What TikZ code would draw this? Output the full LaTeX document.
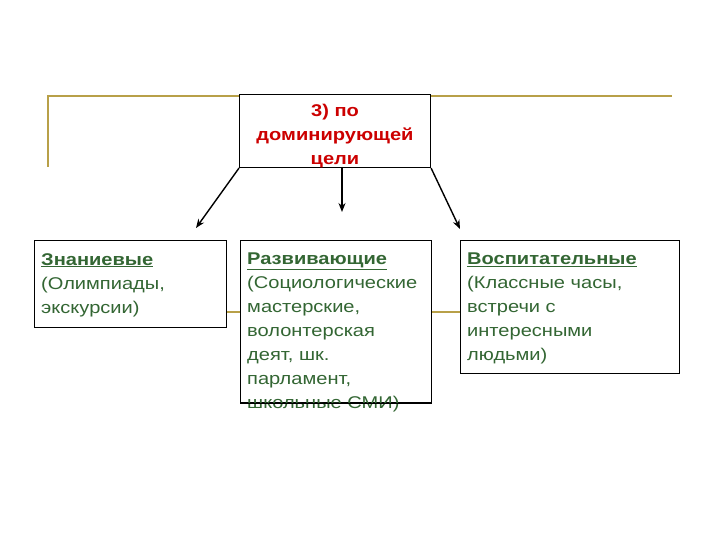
\documentclass[tikz,border=0pt]{standalone}
\usepackage{fontspec}
\setmainfont[FakeStretch=1.18]{Liberation Sans}
\usetikzlibrary{arrows.meta}
\definecolor{gold}{RGB}{184,160,72}
\definecolor{redtxt}{RGB}{204,0,0}
\definecolor{greentxt}{RGB}{51,102,51}
\tikzset{
  frame/.style={draw=black, line width=1.1pt, fill=white, inner sep=0pt},
  bodytext/.style={anchor=north west, inner sep=0pt, align=left, text=greentxt,
    font=\fontsize{17}{24}\selectfont},
  toptext/.style={inner sep=0pt, align=center, text=redtxt,
    font=\fontsize{17}{24}\selectfont\bfseries},
  goldline/.style={draw=gold, line width=2.8pt},
  arr/.style={draw=black, line width=1.4pt, -{Stealth[length=9pt,width=7pt]}}
}
\begin{document}
\begin{tikzpicture}[x=1pt,y=1pt]
\useasboundingbox (0,0) rectangle (720,-540);
% gold lines
\coordinate (gl1) at (48,-167);
\coordinate (gl2) at (48,-96);
\coordinate (gl3) at (672,-96);
\draw[goldline] (gl1) -- (gl2) -- (gl3);
\coordinate (gm1) at (150,-312);
\coordinate (gm2) at (560,-312);
\draw[goldline] (gm1) -- (gm2);
% top box
\node[frame, minimum width=191pt, minimum height=73pt, anchor=north west] (top) at (239,-94) {};
\node[toptext] (toplabel) at (335,-136) {3) по\\доминирующей\\цели};
% boxes
\node[frame, minimum width=192pt, minimum height=87pt, anchor=north west] (b1) at (34,-240) {};
\node[frame, minimum width=191pt, minimum height=162pt, anchor=north west] (b2) at (240,-240) {};
\node[frame, minimum width=219pt, minimum height=133pt, anchor=north west] (b3) at (460,-240) {};
\node[bodytext] (t1) at (41,-253) {\textbf{\underline{Знаниевые}}\\(Олимпиады,\\экскурсии)};
\node[bodytext] (t2) at (247,-253) {\textbf{\underline{Развивающие}}\\(Социологические\\мастерские,\\волонтерская\\деят, шк.\\парламент,\\школьные СМИ)};
\node[bodytext] (t3) at (467,-253) {\textbf{\underline{Воспитательные}}\\(Классные часы,\\встречи с\\интересными\\людьми)};
% redraw bottom edge of b2 over the text
\draw[black, line width=1.1pt] (b2.south west) -- (b2.south east);
% arrows
\coordinate (e1) at (196,-228);
\coordinate (e2) at (342,-212);
\coordinate (e3) at (460,-229);
\coordinate (s2) at (342,-167);
\draw[arr] (top.south west) -- (e1);
\draw[arr] (s2) -- (e2);
\draw[arr] (top.south east) -- (e3);
\end{tikzpicture}
\end{document}
